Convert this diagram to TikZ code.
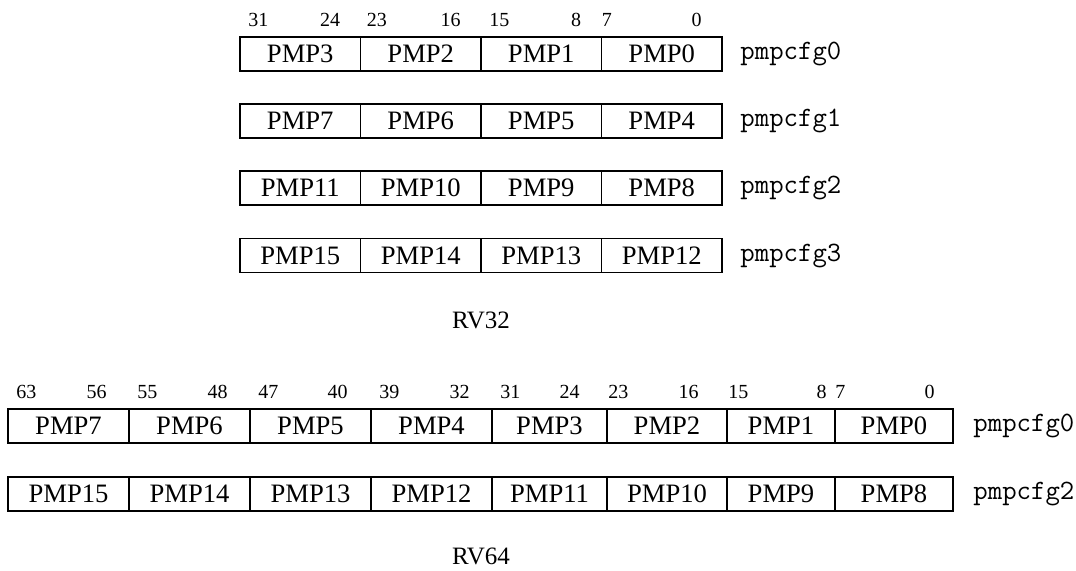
\documentclass[tikz,border=0pt]{standalone}
\usepackage{fontspec}
\setmainfont{Liberation Serif}

\tikzset{
  cell/.style={draw,line width=0.7pt,minimum height=17pt,inner sep=0pt,
    font=\fontsize{13.3}{13.3}\selectfont},
  bitno/.style={inner sep=0pt,font=\fontsize{10}{10}\selectfont},
  regname/.style={anchor=west,inner sep=0pt,font=\ttfamily\fontsize{14}{14}\selectfont},
  title/.style={inner sep=0pt,font=\fontsize{12.5}{12.5}\selectfont}
}

\begin{document}
\begin{tikzpicture}[x=0.5pt,y=-0.5pt]
    \useasboundingbox (0,0) rectangle (1076,570);
    % RV32
    \foreach \hi/\lo/\off [count=\c from 0] in {31/24/8,23/16/6,15/8/8,7/0/0}{
        \node[bitno,anchor=base west] (h\c) at (240+120.5*\c+\off,26) {\hi};
        \node[bitno,anchor=base east] (l\c) at (240+120.5*\c+100.5,26) {\lo};
    }
    \foreach \r/\y in {0/54,1/121,2/188,3/255.5}{
        \foreach \c in {0,...,3}{
            \pgfmathtruncatemacro\n{4*\r+3-\c}
            \node[cell,minimum width=60.25pt] (a\r\c) at (300.25+120.5*\c,\y) {PMP\n};
        }
        \node[regname] (cfg\r) at (740,\y) {pmpcfg\r};
    }
    \node[title] (rv32) at (481,320) {RV32};
    % RV64
    \foreach \t/\x [count=\c] in {63/16,55/137,47/258,39/379,31/500,23/608,15/728,7/835}
        \node[bitno,anchor=base west] (hh\c) at (\x,398) {\t};
    \foreach \t/\x [count=\c] in {56/107,48/228,40/348,32/470,24/580,16/699,8/827,0/935}
        \node[bitno,anchor=base east] (ll\c) at (\x,398) {\t};
    \foreach \r/\k/\y in {0/0/426,1/2/494}{
        \foreach \lft/\rgt [count=\c from 0] in {8/129,129/250,250/371,371/492,492/607,607/727,727/835,835/953}{
            \pgfmathtruncatemacro\n{8*\r+7-\c}
            \pgfmathsetmacro\w{(\rgt-\lft)/2}
            \node[cell,minimum width=\w pt] (b\r\c) at ({(\lft+\rgt)/2},\y) {PMP\n};
        }
        \node[regname] (dcfg\r) at (973,\y) {pmpcfg\k};
    }
    \node[title] (rv64) at (481,556) {RV64};
\end{tikzpicture}
\end{document}
